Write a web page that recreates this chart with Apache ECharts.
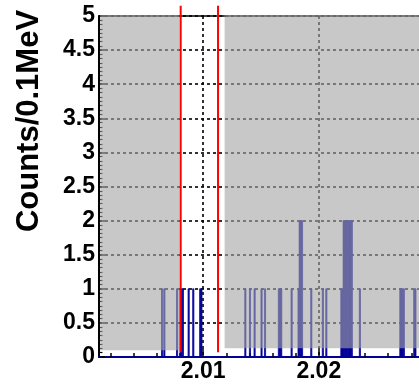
<!DOCTYPE html>
<html><head><meta charset="utf-8">
<script src="https://cdn.jsdelivr.net/npm/echarts@6/dist/echarts.min.js"></script>
<style>html,body{margin:0;padding:0;background:#fff}#c{width:419px;height:386px}</style>
</head><body><div id="c"></div>
<script>
// Histogram bins (low edge, GeV) and counts, bin width 0.1 MeV
const binLow = [2.0064, 2.0066, 2.0077, 2.0080, 2.0081, 2.0082, 2.0087, 2.0091, 2.0097, 2.0098,
  2.0136, 2.0140, 2.0144, 2.0150, 2.0153, 2.0165, 2.0166, 2.0167, 2.0176,
  2.0182, 2.0183, 2.0184, 2.0185, 2.0193, 2.0203, 2.0206,
  2.0219, 2.0220, 2.0221, 2.0222, 2.0223, 2.0224, 2.0225, 2.0226, 2.0227, 2.0228,
  2.0235, 2.0270, 2.0271, 2.0272, 2.0273, 2.0282, 2.0283];
const binCount = [1, 1, 1, 1, 1, 1, 1, 1, 1, 1,
  1, 1, 1, 1, 1, 1, 1, 1, 1,
  1, 2, 2, 2, 1, 1, 1,
  1, 1, 2, 2, 2, 2, 2, 2, 2, 2,
  1, 1, 1, 1, 1, 1, 1];
const binWidth = 0.0001;

const xRange = [2.001, 2.03];
const yRange = [0, 5];
const yStep = 0.5;
const xLabelValues = [2.01, 2.02];
const xMajorTicks = [2.01, 2.02];
const xMinorTicks = [2.002, 2.004, 2.006, 2.008, 2.012, 2.014, 2.016, 2.018, 2.022, 2.024, 2.026, 2.028];

// Shaded (side-band) regions
const shadeX0 = [2.0011, 2.01186];
const shadeX1 = [2.00796, 2.0300];
const shadeY0 = [0.10, 0.13];
const shadeY1 = [5.015, 5.015];

// Signal window cut lines
const cutX = [2.00806, 2.01129];
const cutY = [0.07, 5.15];

const yTitle = 'Counts/0.1MeV';

const FONT = 'Liberation Sans';
const navy = '#000099';
const gridBox = {left: 99, top: 16, width: 335.5, height: 341};

const chart = echarts.init(document.getElementById('c'), null, {renderer: 'canvas'});
chart.setOption({
  animation: false,
  backgroundColor: '#ffffff',
  grid: [
    Object.assign({outerBoundsMode: 'none', containLabel: false}, gridBox),
    Object.assign({outerBoundsMode: 'none', containLabel: false}, gridBox)
  ],
  xAxis: [
    {
      type: 'value', gridIndex: 0, min: xRange[0], max: xRange[1], position: 'bottom',
      axisLine: {show: true, onZero: false, lineStyle: {color: navy, width: 2}},
      axisTick: {show: true, inside: true, length: 8, customValues: xMajorTicks, lineStyle: {color: '#000', width: 1.5}},
      axisLabel: {show: true, customValues: xLabelValues, formatter: v => v.toFixed(2),
        fontSize: 23, fontWeight: 'bold', fontFamily: FONT, color: '#000', margin: 3},
      splitLine: {show: true, lineStyle: {color: '#000', type: [3, 3], width: 1.6}}
    },
    {
      type: 'value', gridIndex: 0, min: xRange[0], max: xRange[1], position: 'top',
      axisLine: {show: true, onZero: false, lineStyle: {color: '#000', width: 1.5}},
      axisTick: {show: false}, axisLabel: {show: false}, splitLine: {show: false}
    },
    {
      type: 'value', gridIndex: 1, min: xRange[0], max: xRange[1], position: 'bottom',
      axisLine: {show: false},
      axisTick: {show: true, inside: true, length: 4, customValues: xMinorTicks, lineStyle: {color: '#000', width: 1.5}},
      axisLabel: {show: false}, splitLine: {show: false}
    }
  ],
  yAxis: [
    {
      type: 'value', gridIndex: 0, min: yRange[0], max: yRange[1], interval: yStep,
      axisLine: {show: true, onZero: false, lineStyle: {color: '#000', width: 2}},
      axisTick: {show: true, inside: true, length: 6, lineStyle: {color: '#000', width: 1.5}},
      minorTick: {show: true, splitNumber: 8, length: 3.5, lineStyle: {color: '#000', width: 1.2}},
      axisLabel: {fontSize: 23, fontWeight: 'bold', fontFamily: FONT, color: '#000', margin: 4},
      splitLine: {show: true, lineStyle: {color: '#000', type: [3, 3], width: 1.6}},
      name: yTitle, nameLocation: 'middle', nameRotate: 90, nameGap: 54,
      nameTextStyle: {fontSize: 31, fontWeight: 'bold', fontFamily: FONT, color: '#000', padding: [0, 0, 0, 131]}
    },
    {type: 'value', gridIndex: 1, min: yRange[0], max: yRange[1], show: false}
  ],
  series: [
    {
      type: 'custom', xAxisIndex: 0, yAxisIndex: 0, z: 2, silent: true,
      data: binLow.map((x, i) => [x, binCount[i]]),
      encode: {x: 0, y: 1},
      renderItem: (params, api) => {
        const x = api.value(0), c = api.value(1);
        const p0 = api.coord([x, c]);
        const p1 = api.coord([x + binWidth, 0]);
        return {type: 'rect', shape: {x: p0[0], y: p0[1], width: p1[0] - p0[0], height: p1[1] - p0[1]},
          style: {fill: navy, stroke: navy, lineWidth: 0.8}};
      }
    },
    {
      type: 'custom', xAxisIndex: 0, yAxisIndex: 0, z: 3, silent: true, clip: false,
      data: shadeX0.map((x, i) => [x, shadeX1[i], shadeY0[i], shadeY1[i]]),
      encode: {x: [0, 1], y: [2, 3]},
      renderItem: (params, api) => {
        const a = api.coord([api.value(0), api.value(3)]);
        const b = api.coord([api.value(1), api.value(2)]);
        return {type: 'rect', shape: {x: a[0], y: a[1], width: b[0] - a[0], height: b[1] - a[1]},
          style: {fill: 'rgba(165,165,165,0.61)'}};
      }
    }
  ].concat(cutX.map(x => ({
    type: 'line', xAxisIndex: 0, yAxisIndex: 0, z: 4, silent: true, clip: false,
    symbol: 'none', lineStyle: {color: '#ff0000', width: 2},
    data: cutY.map(y => [x, y])
  })))
});
</script>
</body></html>
